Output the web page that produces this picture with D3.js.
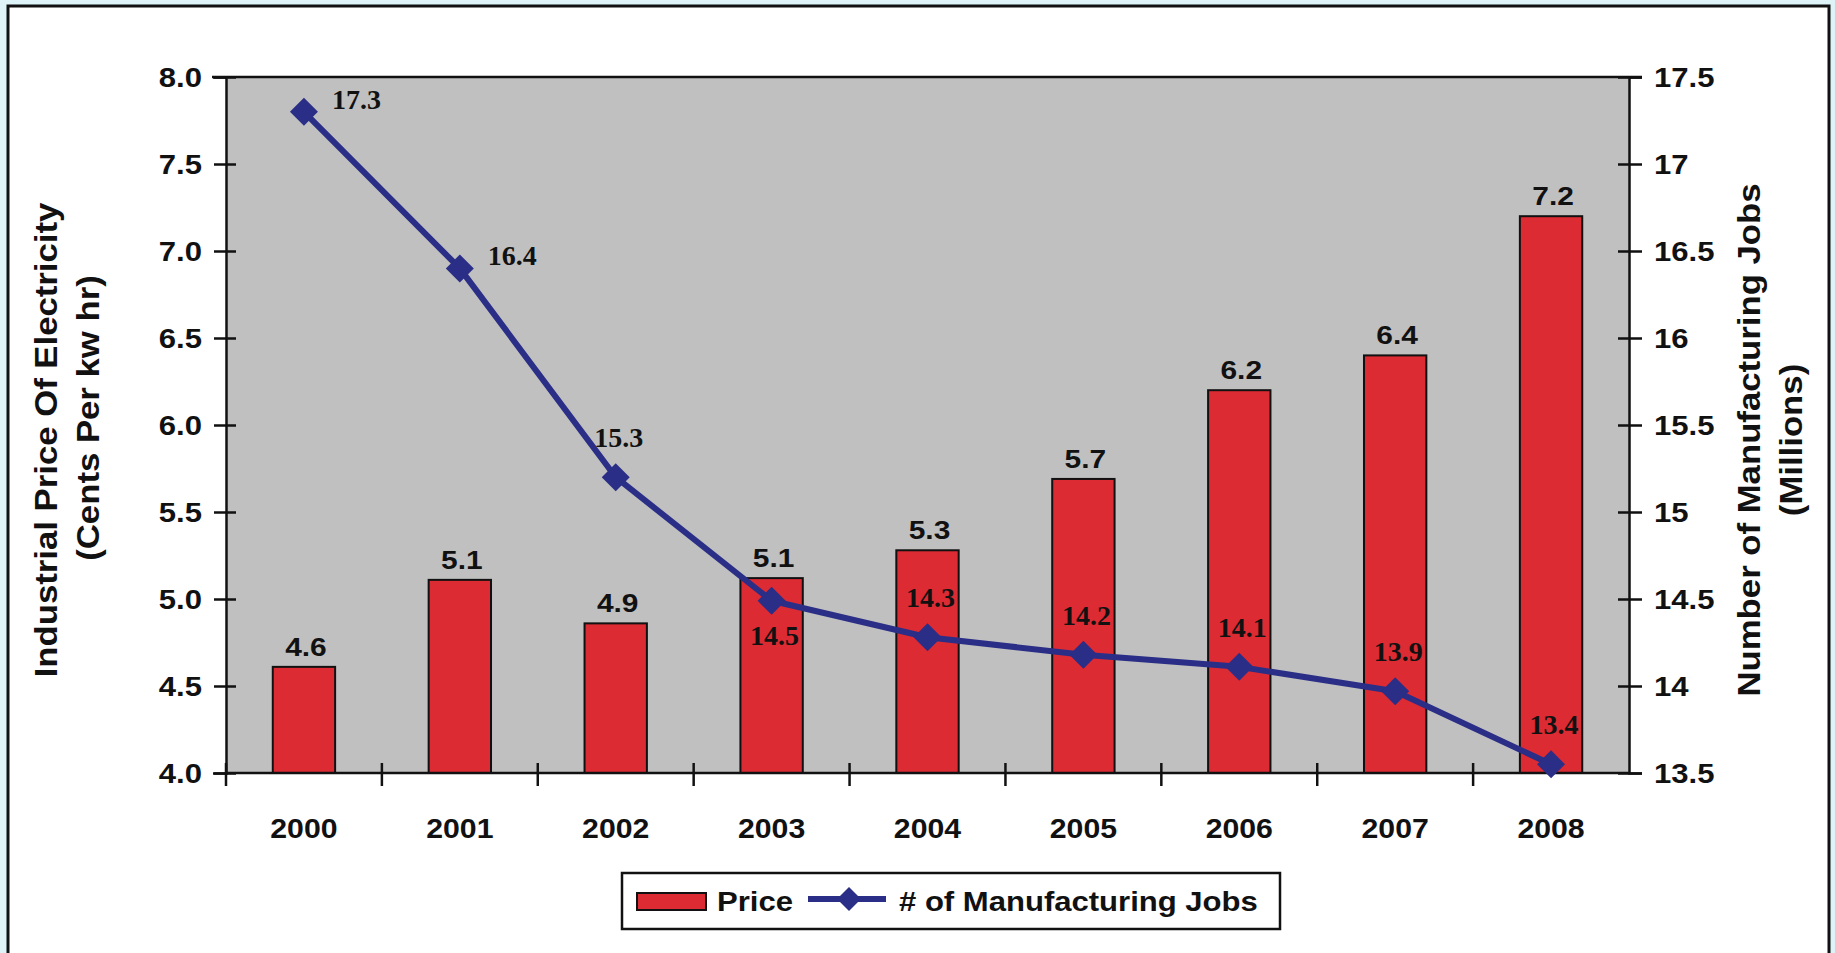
<!DOCTYPE html>
<html>
<head>
<meta charset="utf-8">
<script src="https://cdn.jsdelivr.net/npm/d3@7"></script>
<style>
html,body{margin:0;padding:0;background:#ddf3f8;}
svg{display:block;}
</style>
</head>
<body>
<svg id="chart" width="1835" height="953"></svg>
<script>
// ---- data ----
const years = ["2000","2001","2002","2003","2004","2005","2006","2007","2008"];
const price = [4.61, 5.11, 4.86, 5.12, 5.28, 5.69, 6.2, 6.4, 7.2];
const jobs = [17.3, 16.4, 15.2, 14.49, 14.28, 14.18, 14.11, 13.97, 13.55];
const jobLabels = ["17.3","16.4","15.3","14.5","14.3","14.2","14.1","13.9","13.4"];
const jobLabelPos = ["right","right","above","below","above","above","above","above","above"];
const leftTicks = [4.0, 4.5, 5.0, 5.5, 6.0, 6.5, 7.0, 7.5, 8.0];
const leftTickLabels = ["4.0","4.5","5.0","5.5","6.0","6.5","7.0","7.5","8.0"];
const rightTicks = [13.5, 14, 14.5, 15, 15.5, 16, 16.5, 17, 17.5];
const rightTickLabels = ["13.5","14","14.5","15","15.5","16","16.5","17","17.5"];
const leftTitle = ["Industrial Price Of Electricity", "(Cents Per kw hr)"];
const rightTitle = ["Number of Manufacturing Jobs", "(Millions)"];
const seriesNames = ["Price", "# of Manufacturing Jobs"];

// ---- layout ----
const W = 1835, H = 953;
const plot = {l: 226, r: 1629, t: 77, b: 773};
const RED = "#dc2b33", NAVY = "#2b2e86", GRAY = "#c0c0c0";
const SANS = "'Liberation Sans', Arial, sans-serif";
const SERIF = "'Liberation Serif', 'Times New Roman', serif";
const STRETCH = 1.15;

const svg = d3.select("#chart");

function stretch(sel, f) {
  sel.each(function() {
    const len = this.getComputedTextLength();
    d3.select(this).attr("textLength", len * f).attr("lengthAdjust", "spacingAndGlyphs");
  });
  return sel;
}

// outer frame
svg.append("rect").attr("x", 0).attr("y", 0).attr("width", W).attr("height", H).attr("fill", "#ddf3f8");
svg.append("rect").attr("x", 8).attr("y", 6).attr("width", 1821).attr("height", 1000)
  .attr("fill", "#ffffff").attr("stroke", "#111").attr("stroke-width", 3);

// scales
const x = d3.scaleBand().domain(years).range([plot.l, plot.r]).paddingInner(0.6).paddingOuter(0.3);
const yL = d3.scaleLinear().domain([4, 8]).range([plot.b, plot.t]);
const yR = d3.scaleLinear().domain([13.5, 17.5]).range([plot.b, plot.t]);
const step = x.step();

// plot background
svg.append("rect").attr("x", plot.l).attr("y", plot.t).attr("width", plot.r - plot.l).attr("height", plot.b - plot.t)
  .attr("fill", GRAY);

// bars
svg.append("g").selectAll("rect").data(years).join("rect")
  .attr("x", d => x(d)).attr("y", (d, i) => yL(price[i]))
  .attr("width", x.bandwidth()).attr("height", (d, i) => yL(4) - yL(price[i]))
  .attr("fill", RED).attr("stroke", "#111").attr("stroke-width", 2);

// frame lines: top
svg.append("line").attr("x1", plot.l - 14).attr("x2", plot.r + 13).attr("y1", plot.t).attr("y2", plot.t)
  .attr("stroke", "#111").attr("stroke-width", 2.5);

// left axis
const gL = svg.append("g").attr("transform", `translate(${plot.l},0)`)
  .call(d3.axisLeft(yL).tickValues(leftTicks).tickFormat((d, i) => leftTickLabels[i]).tickSize(13).tickPadding(12));
gL.select(".domain").attr("stroke", "#111").attr("stroke-width", 2.5);
gL.selectAll(".tick line").attr("x2", -12).attr("x1", 10).attr("stroke", "#111").attr("stroke-width", 2.5);
gL.selectAll(".tick text").attr("x", -24).attr("dy", "0.36em")
  .style("font-family", SANS).style("font-weight", "bold").style("font-size", "27px").attr("fill", "#111");
stretch(gL.selectAll(".tick text"), STRETCH);

// right axis
const gR = svg.append("g").attr("transform", `translate(${plot.r},0)`)
  .call(d3.axisRight(yR).tickValues(rightTicks).tickFormat((d, i) => rightTickLabels[i]).tickSize(13));
gR.select(".domain").attr("stroke", "#111").attr("stroke-width", 2.5);
gR.selectAll(".tick line").attr("x1", -11).attr("x2", 13).attr("stroke", "#111").attr("stroke-width", 2.5);
gR.selectAll(".tick text").attr("x", 25).attr("dy", "0.36em")
  .style("font-family", SANS).style("font-weight", "bold").style("font-size", "27px").attr("fill", "#111");
stretch(gR.selectAll(".tick text"), STRETCH);

// bottom axis
const gB = svg.append("g").attr("transform", `translate(0,${plot.b})`)
  .call(d3.axisBottom(x).tickSize(0).tickPadding(0));
gB.select(".domain").remove();
svg.append("line").attr("x1", plot.l).attr("x2", plot.r).attr("y1", plot.b).attr("y2", plot.b)
  .attr("stroke", "#111").attr("stroke-width", 2.5);
gB.selectAll(".tick text").attr("y", 65).attr("dy", 0)
  .style("font-family", SANS).style("font-weight", "bold").style("font-size", "27px").attr("fill", "#111");
stretch(gB.selectAll(".tick text"), 1.12);
// category boundary ticks
const bounds = years.map(d => x(d) - step * x.paddingInner() / 2);
svg.append("g").selectAll("line").data(bounds).join("line")
  .attr("x1", d => d).attr("x2", d => d).attr("y1", plot.b - 10).attr("y2", plot.b + 13)
  .attr("stroke", "#111").attr("stroke-width", 2.5);

// bar value labels
const barLbl = svg.append("g").selectAll("text").data(years).join("text")
  .attr("x", d => x(d) + x.bandwidth() / 2 + 2).attr("y", (d, i) => yL(price[i]) - 11)
  .attr("text-anchor", "middle")
  .style("font-family", SANS).style("font-weight", "bold").style("font-size", "26px").attr("fill", "#111")
  .text((d, i) => d3.format(".1f")(price[i]));
stretch(barLbl, STRETCH);

// jobs line
const cx = d => x(d) + x.bandwidth() / 2;
const line = d3.line().x((d, i) => cx(years[i])).y(d => yR(d));
svg.append("path").datum(jobs).attr("d", line).attr("fill", "none")
  .attr("stroke", NAVY).attr("stroke-width", 6).attr("stroke-linejoin", "round");

const diamond = r => `M0,${-r}L${r},0L0,${r}L${-r},0Z`;
svg.append("g").selectAll("path").data(jobs).join("path")
  .attr("transform", (d, i) => `translate(${cx(years[i])},${yR(d)})`)
  .attr("d", diamond(14)).attr("fill", NAVY);

// jobs value labels
svg.append("g").selectAll("text").data(jobs).join("text")
  .attr("x", (d, i) => jobLabelPos[i] === "right" ? cx(years[i]) + 28 : cx(years[i]) + 3)
  .attr("y", (d, i) => jobLabelPos[i] === "right" ? yR(d) - 3 : jobLabelPos[i] === "below" ? yR(d) + 44 : yR(d) - 30)
  .attr("text-anchor", (d, i) => jobLabelPos[i] === "right" ? "start" : "middle")
  .style("font-family", SERIF).style("font-weight", "bold").style("font-size", "28px").attr("fill", "#111")
  .text((d, i) => jobLabels[i]);

// axis titles
const lt = svg.append("g").selectAll("text").data(leftTitle).join("text")
  .attr("transform", (d, i) => `translate(${i === 0 ? 57 : 99},${i === 0 ? 440 : 418}) rotate(-90)`)
  .attr("text-anchor", "middle")
  .style("font-family", SANS).style("font-weight", "bold").style("font-size", "31px").attr("fill", "#111")
  .text(d => d);
stretch(lt, 1.12);
const rt = svg.append("g").selectAll("text").data(rightTitle).join("text")
  .attr("transform", (d, i) => `translate(${i === 0 ? 1760 : 1802},440) rotate(-90)`)
  .attr("text-anchor", "middle")
  .style("font-family", SANS).style("font-weight", "bold").style("font-size", "31px").attr("fill", "#111")
  .text(d => d);
stretch(rt, 1.12);

// legend
const lg = svg.append("g");
lg.append("rect").attr("x", 622).attr("y", 873).attr("width", 658).attr("height", 56)
  .attr("fill", "#fff").attr("stroke", "#111").attr("stroke-width", 2.5);
lg.append("rect").attr("x", 637).attr("y", 893).attr("width", 69).attr("height", 17)
  .attr("fill", RED).attr("stroke", "#111").attr("stroke-width", 2);
const l1 = lg.append("text").attr("x", 717).attr("y", 911)
  .style("font-family", SANS).style("font-weight", "bold").style("font-size", "27px").attr("fill", "#111")
  .text(seriesNames[0]);
stretch(l1, STRETCH);
lg.append("line").attr("x1", 808).attr("x2", 886).attr("y1", 899).attr("y2", 899)
  .attr("stroke", NAVY).attr("stroke-width", 6);
lg.append("path").attr("transform", "translate(849,899)").attr("d", diamond(12)).attr("fill", NAVY);
const l2 = lg.append("text").attr("x", 899).attr("y", 911)
  .style("font-family", SANS).style("font-weight", "bold").style("font-size", "27px").attr("fill", "#111")
  .text(seriesNames[1]);
stretch(l2, STRETCH);
</script>
</body>
</html>
